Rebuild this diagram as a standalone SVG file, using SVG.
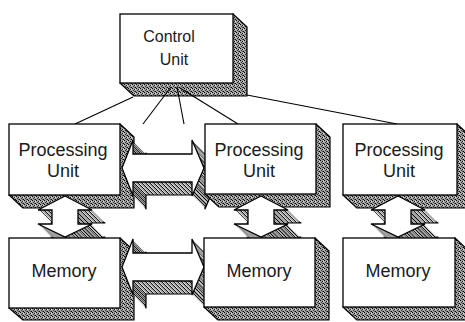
<svg xmlns="http://www.w3.org/2000/svg" xmlns:xlink="http://www.w3.org/1999/xlink" width="465" height="322" viewBox="0 0 465 322">
<style>
.face{fill:#ffffff;stroke:#000;stroke-width:1.3}
.ext{fill:url(#dith);stroke:#000;stroke-width:1.2;stroke-linejoin:round}
.fill{fill:url(#dith);stroke:none}
.lbl{font-family:"Liberation Sans",Arial,sans-serif;font-size:18px;fill:#1a1a1a;text-anchor:middle}
.cu{font-size:16px}
.line{stroke:#000;stroke-width:1.1;fill:none}
</style>
<defs>
<pattern id="dith" width="4" height="4" patternUnits="userSpaceOnUse">
<rect width="4" height="4" fill="#a4a4a4"/>
<rect x="0" y="0" width="1" height="1" fill="#000"/>
<rect x="2" y="1" width="1" height="1" fill="#111"/>
<rect x="1" y="2" width="1" height="1" fill="#333"/>
<rect x="3" y="3" width="1" height="1" fill="#000"/>
<rect x="2" y="3" width="1" height="1" fill="#555"/>
<rect x="3" y="1" width="1" height="1" fill="#e0e0e0"/>
</pattern>
<polygon id="hA" points="0,0 11,-28 11,-14 70,-14 70,-28 82,0 70,28 70,14 11,14 11,28"/>
<polygon id="vA" points="0,0 27,14 13,14 13,28 27,28 0,41 -27,28 -13,28 -13,14 -27,14"/>
<g id="hArrow">
<use xlink:href="#hA" class="ext" transform="translate(13,13)"/>
<use xlink:href="#hA" class="fill" transform="translate(12,12)"/>
<use xlink:href="#hA" class="fill" transform="translate(11,11)"/>
<use xlink:href="#hA" class="fill" transform="translate(10,10)"/>
<use xlink:href="#hA" class="fill" transform="translate(9,9)"/>
<use xlink:href="#hA" class="fill" transform="translate(8,8)"/>
<use xlink:href="#hA" class="fill" transform="translate(7,7)"/>
<use xlink:href="#hA" class="fill" transform="translate(6,6)"/>
<use xlink:href="#hA" class="fill" transform="translate(5,5)"/>
<use xlink:href="#hA" class="fill" transform="translate(4,4)"/>
<use xlink:href="#hA" class="fill" transform="translate(3,3)"/>
<use xlink:href="#hA" class="fill" transform="translate(2,2)"/>
<use xlink:href="#hA" class="fill" transform="translate(1,1)"/>
<use xlink:href="#hA" class="face"/>
</g>
<g id="vArrow">
<use xlink:href="#vA" class="ext" transform="translate(13,13)"/>
<use xlink:href="#vA" class="fill" transform="translate(12,12)"/>
<use xlink:href="#vA" class="fill" transform="translate(11,11)"/>
<use xlink:href="#vA" class="fill" transform="translate(10,10)"/>
<use xlink:href="#vA" class="fill" transform="translate(9,9)"/>
<use xlink:href="#vA" class="fill" transform="translate(8,8)"/>
<use xlink:href="#vA" class="fill" transform="translate(7,7)"/>
<use xlink:href="#vA" class="fill" transform="translate(6,6)"/>
<use xlink:href="#vA" class="fill" transform="translate(5,5)"/>
<use xlink:href="#vA" class="fill" transform="translate(4,4)"/>
<use xlink:href="#vA" class="fill" transform="translate(3,3)"/>
<use xlink:href="#vA" class="fill" transform="translate(2,2)"/>
<use xlink:href="#vA" class="fill" transform="translate(1,1)"/>
<use xlink:href="#vA" class="face"/>
</g>
</defs>
<rect width="465" height="322" fill="#fff"/>

<g id="control-unit">
<polygon class="ext" points="233,14 247,27 247,96 134,96 120,83"/>
<rect class="face" x="120" y="14" width="113" height="69"/>
<text class="lbl cu" x="169" y="42">Control</text>
<text class="lbl cu" x="174" y="65">Unit</text>
</g>

<g id="connectors">
<line class="line" x1="133" y1="97" x2="75" y2="124"/>
<line class="line" x1="171" y1="87" x2="143" y2="124"/>
<line class="line" x1="177" y1="87" x2="184" y2="124"/>
<line class="line" x1="180" y1="88" x2="238" y2="124"/>
<line class="line" x1="247" y1="95" x2="397" y2="124"/>
</g>

<g id="pu1">
<polygon class="ext" points="120,124 134,137 134,208 23,208 9,195"/>
<rect class="face" x="9" y="124" width="111" height="71"/>
<text class="lbl" x="63" y="156">Processing</text>
<text class="lbl" x="63" y="177">Unit</text>
</g>

<g id="pu-link"><use xlink:href="#hArrow" transform="translate(122,168)"/></g>

<g id="pu2">
<polygon class="ext" points="316,124 330,137 330,207 219,207 205,194"/>
<rect class="face" x="205" y="124" width="111" height="70"/>
<text class="lbl" x="259" y="156">Processing</text>
<text class="lbl" x="259" y="177">Unit</text>
</g>

<g id="pu3">
<polygon class="ext" points="457,124 471,137 471,208 357,208 343,195"/>
<rect class="face" x="343" y="124" width="114" height="71"/>
<text class="lbl" x="399" y="156">Processing</text>
<text class="lbl" x="399" y="177">Unit</text>
</g>

<g id="pu-mem-links">
<use xlink:href="#vArrow" transform="translate(65,196)"/>
<use xlink:href="#vArrow" transform="translate(261,196)"/>
<use xlink:href="#vArrow" transform="translate(398,196)"/>
</g>

<g id="mem1">
<polygon class="ext" points="120,238 134,251 134,320 23,320 9,308"/>
<rect class="face" x="9" y="238" width="111" height="70"/>
<text class="lbl" x="64" y="277">Memory</text>
</g>

<g id="mem-link"><use xlink:href="#hArrow" transform="translate(122,267)"/></g>

<g id="mem2">
<polygon class="ext" points="315,238 329,251 329,320 218,320 204,307"/>
<rect class="face" x="204" y="238" width="111" height="69"/>
<text class="lbl" x="259" y="277">Memory</text>
</g>

<g id="mem3">
<polygon class="ext" points="455,238 469,251 469,320 357,320 343,307"/>
<rect class="face" x="343" y="238" width="112" height="69"/>
<text class="lbl" x="398" y="277">Memory</text>
</g>
</svg>
